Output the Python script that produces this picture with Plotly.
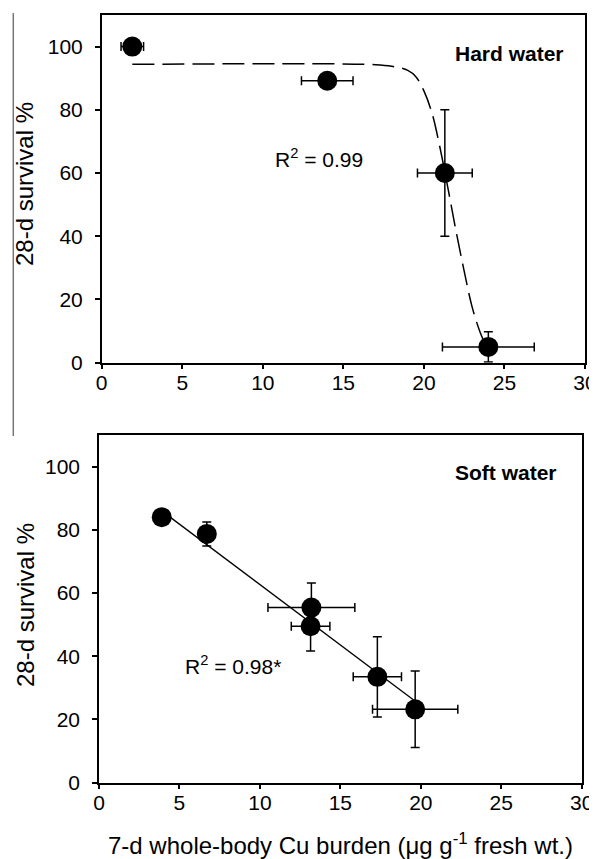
import plotly.graph_objects as go

# ---- Hard water (top panel) ----
hard_x = [1.9, 14.0, 21.3, 24.0]
hard_y = [100.0, 89.2, 60.0, 5.0]
hard_xerr = [0.7, 1.6, 1.7, 2.85]
hard_yerr = [0.0, 0.0, 20.0, 4.8]

# fitted curve, points
hard_fit_x = [1.9, 17.0, 18.0, 19.0, 19.5, 20.0, 20.5, 21.0, 21.5, 22.0, 22.5, 23.0, 23.5, 23.8]
hard_fit_y = [94.4, 94.3, 93.8, 92.5, 90.5, 86.0, 79.0, 68.0, 55.0, 41.5, 29.0, 17.5, 9.5, 6.0]

# ---- Soft water (bottom panel) ----
soft_x = [3.9, 6.7, 13.2, 13.15, 17.3, 19.65]
soft_y = [84.0, 78.7, 55.4, 49.5, 33.5, 23.2]
soft_xerr = [0.0, 0.0, 2.7, 1.2, 1.5, 2.65]
soft_yerr = [0.0, 3.8, 7.8, 7.8, 12.7, 12.1]

soft_fit_x = [3.9, 19.7]
soft_fit_y = [86.0, 25.6]

x_ticks = [0, 5, 10, 15, 20, 25, 30]
y_ticks = [0, 20, 40, 60, 80, 100]

OFF = 8  # default body margin of the html page
W, H = 597 - OFF, 859 - OFF
FONT = "Liberation Sans, Arial, sans-serif"

fig = go.Figure()

fig.add_trace(go.Scatter(
    x=hard_fit_x, y=hard_fit_y, mode="lines", line_shape="spline",
    line=dict(color="black", width=1.5, dash="22px,8px"),
    xaxis="x", yaxis="y", showlegend=False, hoverinfo="skip"))
fig.add_trace(go.Scatter(
    x=hard_x, y=hard_y, mode="markers",
    marker=dict(color="black", size=20),
    error_x=dict(type="data", array=hard_xerr, color="black", thickness=1.5, width=4.5),
    error_y=dict(type="data", array=hard_yerr, color="black", thickness=1.5, width=4.5),
    xaxis="x", yaxis="y", showlegend=False))

fig.add_trace(go.Scatter(
    x=soft_fit_x, y=soft_fit_y, mode="lines",
    line=dict(color="black", width=1.3),
    xaxis="x2", yaxis="y2", showlegend=False, hoverinfo="skip"))
fig.add_trace(go.Scatter(
    x=soft_x, y=soft_y, mode="markers",
    marker=dict(color="black", size=20),
    error_x=dict(type="data", array=soft_xerr, color="black", thickness=1.5, width=4.5),
    error_y=dict(type="data", array=soft_yerr, color="black", thickness=1.5, width=4.5),
    xaxis="x2", yaxis="y2", showlegend=False))

def px_x(p):
    return (p - OFF) / W

def px_y(p):
    return 1 - (p - OFF) / H

axis_common = dict(
    showgrid=False, zeroline=False, showline=True, linecolor="black", linewidth=1.5,
    mirror=True, ticks="outside", ticklen=5, tickwidth=1.5, tickcolor="black",
    tickfont=dict(family=FONT, size=21, color="black"), automargin=False,
)

fig.update_layout(
    width=W, height=H,
    margin=dict(l=0, r=0, t=0, b=0),
    paper_bgcolor="white", plot_bgcolor="white",
    font=dict(family=FONT, color="black"),
    xaxis=dict(domain=[px_x(101.7), px_x(585)], range=[0, 30], tickvals=x_ticks,
               anchor="y", ticklabelstandoff=-5, **axis_common),
    yaxis=dict(domain=[px_y(362.7), px_y(15)], range=[0, 110], tickvals=y_ticks,
               anchor="x", ticklabelstandoff=8, **axis_common),
    xaxis2=dict(domain=[px_x(99), px_x(581.7)], range=[0, 30], tickvals=x_ticks,
                anchor="y2", ticklabelstandoff=-5, **axis_common),
    yaxis2=dict(domain=[px_y(782.7), px_y(435)], range=[0, 110], tickvals=y_ticks,
                anchor="x2", ticklabelstandoff=8, **axis_common),
)

center = dict(xanchor="center", yanchor="middle", showarrow=False)
ann = [
    dict(text="<b>Hard water</b>", x=25.3, y=97.8, xref="x", yref="y",
         font=dict(size=21, family=FONT), **center),
    dict(text="R<sup>2</sup> = 0.99", x=13.5, y=64.7, xref="x", yref="y",
         font=dict(size=21, family=FONT), **center),
    dict(text="<b>Soft water</b>", x=25.3, y=98.2, xref="x2", yref="y2",
         font=dict(size=21, family=FONT), **center),
    dict(text="R<sup>2</sup> = 0.98*", x=8.3, y=37.2, xref="x2", yref="y2",
         font=dict(size=21, family=FONT), **center),
    dict(text="28-d survival %", x=px_x(25), y=px_y(184), xref="paper", yref="paper",
         textangle=-90, font=dict(size=24, family=FONT), **center),
    dict(text="28-d survival %", x=px_x(25), y=px_y(605), xref="paper", yref="paper",
         textangle=-90, font=dict(size=24, family=FONT), **center),
    dict(text="7-d whole-body Cu burden (\u03bcg g<sup>-1</sup> fresh wt.)",
         x=px_x(340), y=px_y(844), xref="paper", yref="paper",
         font=dict(size=24, family=FONT), **center),
]
fig.update_layout(annotations=ann)

fig.add_shape(type="line", xref="paper", yref="paper",
              x0=px_x(13.3), x1=px_x(13.3), y0=px_y(13), y1=px_y(436),
              line=dict(color="#777777", width=1.5))

fig.write_html("out.html")
